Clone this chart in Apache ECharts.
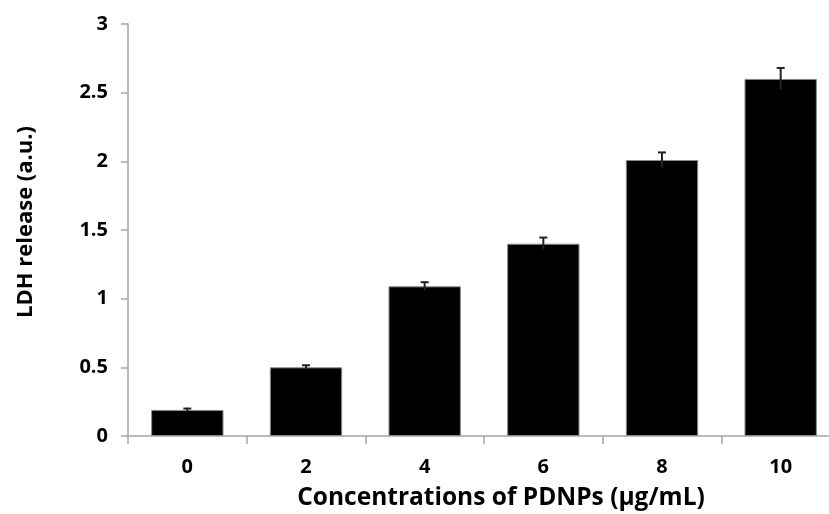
<!DOCTYPE html>
<html>
<head>
<meta charset="utf-8">
<script src="https://cdn.jsdelivr.net/npm/echarts@6/dist/echarts.min.js"></script>
<style>
  html, body { margin: 0; padding: 0; background: #fff; }
  #chart { width: 829px; height: 514px; }
</style>
</head>
<body>
<div id="chart"></div>
<script>
// PDNP concentration groups (µg/mL)
const categories = ['0', '2', '4', '6', '8', '10'];
// Mean LDH release (a.u.)
const ldhRelease = [0.19, 0.50, 1.09, 1.40, 2.01, 2.60];
// Standard deviation for each group
const ldhError = [0.01, 0.015, 0.03, 0.045, 0.055, 0.08];
// Y-axis tick values
const yTicks = [0, 0.5, 1, 1.5, 2, 2.5, 3];

const FONT = '"Open Sans", "Noto Sans", sans-serif';
const AXIS_GRAY = '#a6a6a6';

const chart = echarts.init(document.getElementById('chart'), null, { renderer: 'canvas' });

const errorData = ldhRelease.map((v, i) => [i, v, ldhError[i]]);

chart.setOption({
  animation: false,
  backgroundColor: '#ffffff',
  grid: { left: 128, top: 24, width: 712, height: 412, containLabel: false, outerBoundsMode: 'none' },
  xAxis: {
    type: 'category',
    data: categories,
    name: 'Concentrations of PDNPs (μg/mL)',
    nameLocation: 'middle',
    nameGap: 50,
    nameTextStyle: { fontFamily: FONT, fontWeight: 'bold', fontSize: 24.5, color: '#000', padding: [0, 0, 0, 34] },
    axisLine: { lineStyle: { color: AXIS_GRAY, width: 1.5 } },
    axisTick: { show: true, length: 8, lineStyle: { color: AXIS_GRAY, width: 1.5 }, alignWithLabel: false },
    axisLabel: { fontFamily: FONT, fontWeight: 'bold', fontSize: 20, color: '#000', margin: 21 },
    splitLine: { show: false }
  },
  yAxis: {
    type: 'value',
    min: yTicks[0],
    max: yTicks[yTicks.length - 1],
    interval: 0.5,
    name: 'LDH release (a.u.)',
    nameLocation: 'middle',
    nameGap: 91,
    nameTextStyle: { fontFamily: FONT, fontWeight: 'bold', fontSize: 22, color: '#000', padding: [0, 0, 0, 16] },
    axisLine: { show: true, lineStyle: { color: AXIS_GRAY, width: 1.5 } },
    axisTick: { show: true, length: 7, lineStyle: { color: AXIS_GRAY, width: 1.5 } },
    axisLabel: { fontFamily: FONT, fontWeight: 'bold', fontSize: 20, color: '#000', margin: 20 },
    splitLine: { show: false }
  },
  series: [
    {
      type: 'bar',
      data: ldhRelease,
      barWidth: '61%',
      itemStyle: { color: '#000', borderColor: '#8c8c8c', borderWidth: 1 }
    },
    {
      type: 'custom',
      data: errorData,
      z: 10,
      renderItem: function (params, api) {
        const idx = api.value(0);
        const mean = api.value(1);
        const err = api.value(2);
        const top = api.coord([idx, mean + err]);
        const bottom = api.coord([idx, mean - err]);
        const cap = 4;
        const style = { stroke: '#222', lineWidth: 2 };
        return {
          type: 'group',
          children: [
            { type: 'line', shape: { x1: top[0], y1: top[1], x2: bottom[0], y2: bottom[1] }, style: style },
            { type: 'line', shape: { x1: top[0] - cap, y1: top[1], x2: top[0] + cap, y2: top[1] }, style: style }
          ]
        };
      }
    }
  ]
});
</script>
</body>
</html>
